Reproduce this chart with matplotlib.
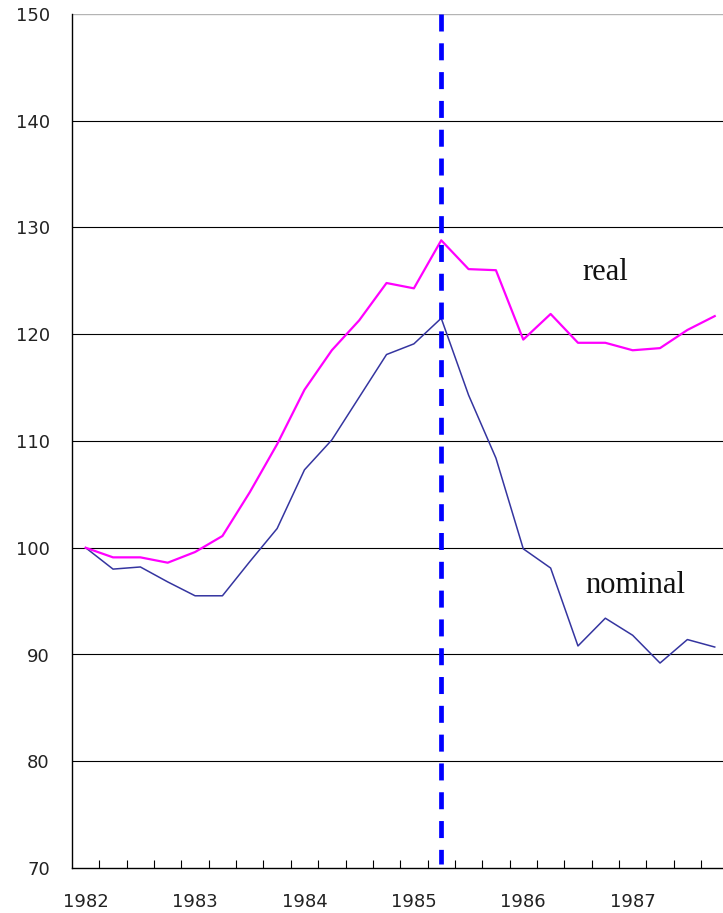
import matplotlib
matplotlib.use('Agg')
import matplotlib.pyplot as plt
import numpy as np

# quarterly index, 1982Q1 = 100
years = ['1982', '1983', '1984', '1985', '1986', '1987']
real = [100.0, 99.1, 99.1, 98.6, 99.6, 101.1, 105.2, 109.7, 114.8, 118.5, 121.3, 124.8,
        124.3, 128.8, 126.1, 126.0, 119.5, 121.9, 119.2, 119.2, 118.5, 118.7, 120.4, 121.7]
nominal = [100.0, 98.0, 98.2, 96.8, 95.5, 95.5, 98.7, 101.8, 107.3, 110.1, 114.1, 118.1,
           119.1, 121.5, 114.3, 108.4, 99.9, 98.1, 90.8, 93.4, 91.8, 89.2, 91.4, 90.7]
plaza_quarter = 13  # 1985Q3 marker
y_ticks = [70, 80, 90, 100, 110, 120, 130, 140, 150]

fig = plt.figure(figsize=(7.23, 9.13), dpi=100)
ax = fig.add_axes([72 / 723, 45 / 913, 656.4 / 723, 854 / 913])

x = np.arange(len(real))

# horizontal grid
for v in y_ticks[1:-1]:
    ax.axhline(v, color='black', lw=0.8, zorder=1)
ax.axhline(150, color='#b4b4b4', lw=1.0, zorder=1)

ax.plot(x, nominal, color='#3535a0', lw=1.1, zorder=3)
ax.plot(x, real, color='#ff00ff', lw=1.6, zorder=3)

ax.plot([plaza_quarter, plaza_quarter], [150, 70.4], color='#0000ff', lw=3.4,
        dashes=(3.6, 2.5), dash_capstyle='butt', zorder=4)

ax.text(19.0, 125.8, 'real', family='Liberation Serif', fontsize=22,
        ha='center', va='center', color='#111111')
ax.text(20.1, 96.5, 'nominal', family='Liberation Serif', fontsize=22,
        ha='center', va='center', color='#111111')

ax.set_xlim(-0.5, 23.5)
ax.set_ylim(70, 150)

# quarter boundary ticks pointing up, year labels under first quarter
ax.set_xticks(np.arange(0.5, 23.5, 1.0))
ax.set_xticklabels([])
ax.tick_params(axis='x', which='major', direction='in', length=6, width=0.8, color='black')
ax.set_xticks(np.arange(0, 24, 4), minor=True)
ax.set_xticklabels(years, minor=True)
ax.tick_params(axis='x', which='minor', length=0, pad=18, labelsize=13, labelcolor='#222222')

ax.set_yticks(y_ticks)
ax.set_yticklabels([str(v) for v in y_ticks])
ax.tick_params(axis='y', length=0, pad=16, labelsize=13, labelcolor='#222222')

for s in ['top', 'right']:
    ax.spines[s].set_visible(False)
ax.spines['left'].set_linewidth(1.0)
ax.spines['bottom'].set_linewidth(1.0)

fig.savefig('out.png', dpi=100)
